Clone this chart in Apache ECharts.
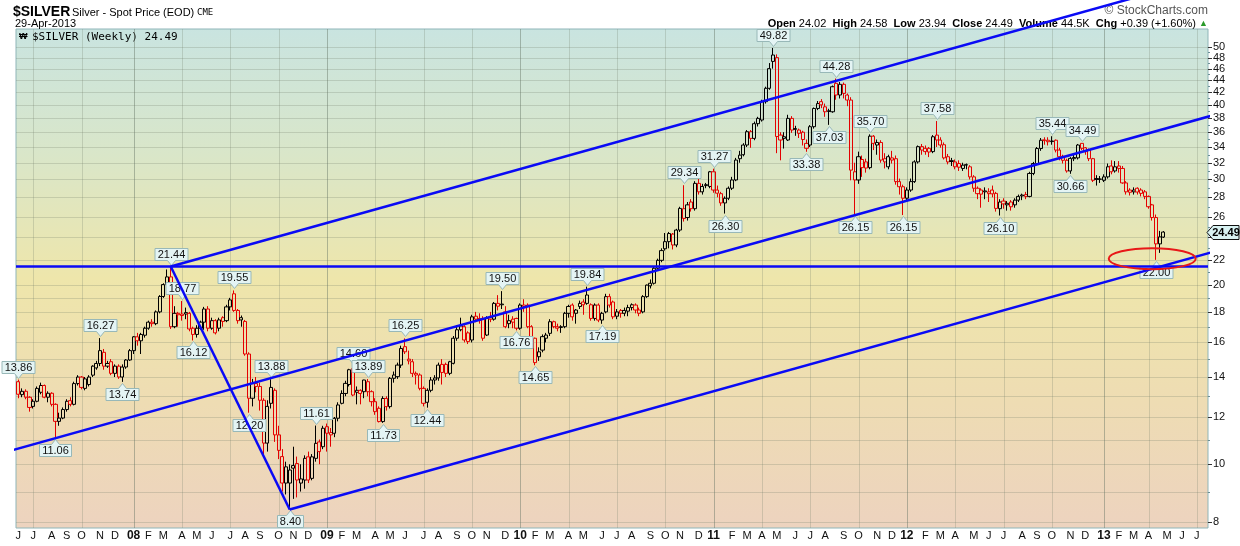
<!DOCTYPE html>
<html><head><meta charset="utf-8">
<script src="https://cdn.jsdelivr.net/npm/echarts@6/dist/echarts.min.js"></script>
<style>html,body{margin:0;padding:0;background:#fff}#c{width:1240px;height:546px}</style>
</head><body><div id="c"></div>
<script>
// ---------------- DATA (weekly bars, first bar = week of 4-Jun-2007) ----------------
const firstWeek = '2007-06-04';
const open = [
13.75,13.08,13.25,12.95,12.50,12.75,13.20,13.55,12.95,13.15,
12.60,11.80,11.95,12.35,12.78,12.60,13.65,14.00,13.40,13.60,
14.10,14.50,14.75,15.40,14.60,14.85,14.20,14.60,14.00,14.55,
14.95,15.50,16.35,16.10,16.45,16.90,17.30,17.20,18.00,19.10,
20.00,20.60,17.00,17.90,17.85,17.95,17.90,16.90,16.50,16.90,
17.30,18.20,16.90,17.40,16.90,17.60,17.40,18.35,19.30,18.10,
17.60,17.35,15.30,12.90,13.65,13.50,12.80,10.85,12.65,13.30,
11.20,10.30,9.90,9.30,9.85,10.03,9.30,9.41,10.29,9.47,
10.23,10.90,10.70,11.56,11.30,11.27,11.94,12.65,13.14,13.60,
14.47,13.30,13.30,13.23,13.75,13.23,12.73,12.41,11.79,12.89,
12.49,13.93,14.02,14.66,15.74,15.00,14.85,14.20,14.11,13.40,
12.70,13.30,13.84,13.95,14.70,14.70,14.20,14.76,16.26,16.80,
17.00,16.60,16.15,17.70,17.55,17.55,16.46,17.60,17.50,18.60,
18.55,18.00,17.20,17.50,17.55,16.90,18.48,18.48,17.00,16.26,
15.14,15.53,16.26,16.57,17.33,17.00,17.00,17.00,17.90,18.48,
18.13,18.38,18.70,18.60,18.50,17.55,18.48,17.44,18.00,19.09,
18.70,17.70,18.10,17.90,18.05,18.30,18.48,18.13,18.00,19.09,
19.90,20.10,21.30,21.96,22.96,23.60,24.30,23.30,24.68,26.80,
25.90,27.50,26.80,29.55,28.60,29.40,29.20,30.90,28.80,28.40,
27.40,27.90,29.00,29.94,32.50,33.00,34.26,36.07,35.15,37.20,
37.73,40.50,42.64,47.30,48.00,35.60,35.37,34.93,37.97,36.50,
36.30,36.00,34.48,34.26,36.77,39.45,40.50,39.70,39.10,38.95,
43.47,41.55,43.30,41.55,40.75,30.90,29.94,32.40,32.10,31.40,
35.45,34.26,34.60,32.50,31.50,32.60,32.50,29.75,29.17,27.90,
28.80,29.75,32.10,34.05,33.83,33.83,33.40,35.60,34.93,34.30,
32.75,32.25,32.10,31.90,31.30,31.75,31.50,30.30,29.00,28.80,
28.70,28.60,28.80,28.43,26.80,27.60,27.20,27.50,27.20,27.70,
28.25,28.30,28.10,30.70,31.90,33.80,34.95,34.90,34.80,34.90,
33.60,32.80,32.30,31.00,32.50,32.60,34.48,33.90,33.60,32.50,
30.10,30.05,29.90,30.30,31.60,31.00,31.60,31.30,29.60,28.80,
28.80,29.00,28.80,28.60,28.10,27.20,25.90,23.40,24.02];
const high = [
13.86,13.40,13.35,13.00,12.85,13.50,13.70,13.60,13.25,13.20,
12.65,12.20,12.45,12.85,12.95,13.75,14.10,14.05,14.00,14.10,
14.65,14.90,16.27,15.60,14.90,15.00,14.70,14.70,14.70,15.00,
15.60,16.40,16.60,16.60,17.00,17.40,17.50,18.10,19.20,20.10,
21.20,21.44,18.40,18.00,18.77,18.30,18.00,17.00,17.10,17.40,
18.35,18.40,17.60,17.50,17.60,17.70,18.50,19.00,19.55,18.20,
17.75,17.45,15.40,13.90,14.00,13.70,12.90,12.80,13.88,13.40,
11.60,10.60,10.10,10.00,10.70,10.30,10.00,10.35,10.50,10.40,
11.61,11.00,11.60,11.70,11.50,12.00,12.70,13.30,13.80,14.45,
14.60,13.50,13.35,13.85,13.89,13.30,12.90,12.50,13.00,13.00,
14.00,14.30,14.80,15.80,16.25,15.50,15.00,14.30,14.20,13.50,
13.40,14.00,14.10,14.80,15.00,14.80,14.90,16.40,17.10,17.60,
17.10,16.70,17.80,18.00,17.90,17.70,17.70,18.00,18.70,19.20,
19.50,18.40,17.80,17.70,17.60,18.60,18.90,18.60,17.10,16.30,
15.70,16.50,16.60,17.50,17.40,17.20,17.10,18.00,18.50,18.60,
18.20,18.80,18.90,19.84,18.60,18.60,18.60,18.00,19.30,19.30,
18.80,18.20,18.20,18.30,18.50,18.60,18.60,18.30,19.20,20.00,
20.40,21.40,22.10,23.00,24.40,24.50,24.40,24.80,27.00,29.34,
27.50,27.80,29.80,30.20,29.50,29.60,31.00,31.27,29.30,28.60,
28.10,29.20,30.30,32.60,33.50,34.50,36.30,36.30,37.50,38.20,
40.80,42.90,47.00,49.82,48.60,36.00,36.00,38.50,38.30,36.90,
36.50,36.20,35.00,37.00,39.60,40.60,40.90,40.20,39.40,43.10,
44.28,43.70,43.60,41.80,41.20,32.00,33.40,32.90,32.50,35.70,
35.60,35.00,34.90,33.20,33.00,33.50,32.90,30.10,29.40,29.10,
30.10,32.30,34.20,34.40,34.20,34.00,35.60,37.58,35.30,34.60,
33.10,32.60,32.40,32.30,32.00,31.90,31.70,30.50,29.20,29.00,
29.10,29.00,29.30,28.60,27.80,27.90,27.60,27.70,27.90,28.30,
28.40,28.60,30.90,32.10,34.00,35.20,35.30,35.30,35.44,35.00,
33.90,33.00,32.50,32.70,33.00,34.40,34.49,34.00,33.80,32.60,
30.50,30.40,30.60,31.90,32.30,32.20,32.20,31.60,29.80,29.00,
29.10,29.10,29.00,28.80,28.20,27.30,26.20,24.60,24.58];
const low = [
12.90,12.95,12.85,12.25,12.40,12.70,13.10,12.90,12.70,12.50,
11.06,11.60,11.90,12.25,12.50,12.55,13.55,13.35,13.30,13.50,
14.00,14.40,14.60,14.40,14.50,14.10,14.00,13.90,13.74,14.45,
14.90,15.30,15.80,15.30,16.30,16.80,17.00,17.10,17.90,19.00,
19.70,16.85,16.90,17.00,17.40,17.50,16.70,16.12,16.30,16.80,
16.80,16.70,16.80,16.50,16.70,17.00,17.30,18.10,18.00,17.20,
17.00,15.20,12.20,12.50,13.20,12.30,10.40,10.50,12.40,10.90,
10.20,9.00,8.90,8.40,8.75,8.80,9.00,9.10,9.30,9.40,
10.10,10.00,10.60,10.50,10.70,11.10,11.80,12.60,13.00,13.50,
13.00,12.60,12.60,12.90,13.00,12.50,12.10,11.75,11.73,12.30,
12.40,13.70,13.90,14.50,15.30,14.70,14.00,13.60,13.30,12.50,
12.44,13.20,13.60,13.80,13.60,14.00,14.10,14.70,16.10,16.70,
16.00,15.90,16.00,17.30,17.20,16.10,16.40,17.30,17.40,18.10,
18.20,16.90,16.90,16.90,16.76,16.80,18.00,16.90,15.90,14.65,
14.90,15.40,16.00,16.40,16.90,16.70,16.60,16.90,17.60,17.40,
17.20,18.20,17.80,18.50,17.40,17.40,17.30,17.19,17.90,18.30,
17.50,17.50,17.60,17.70,17.70,18.10,17.90,17.70,17.90,19.00,
19.70,20.00,21.20,21.80,22.80,23.00,22.90,23.10,24.50,25.50,
25.60,26.50,26.60,28.30,28.30,29.00,29.00,28.50,28.00,27.10,
26.30,27.70,28.80,29.80,32.00,32.80,34.00,33.90,34.90,36.80,
37.50,40.20,42.40,46.00,33.20,32.30,33.80,34.80,35.90,35.50,
35.20,34.20,33.38,34.00,36.50,39.20,39.50,38.20,37.03,38.80,
40.80,41.00,41.00,39.80,29.90,26.15,29.50,30.30,30.80,31.20,
33.60,33.00,32.00,31.30,31.20,31.90,29.40,28.30,26.15,27.70,
28.60,29.60,31.90,33.00,33.00,32.70,33.20,34.00,33.90,32.40,
31.80,31.60,31.20,31.00,31.00,31.20,30.00,28.60,27.80,26.90,
27.80,27.50,28.00,26.50,26.10,26.80,26.60,26.60,26.90,27.50,
27.70,27.80,28.00,30.50,31.70,33.50,34.30,34.20,34.30,33.30,
32.30,31.90,30.80,30.66,32.20,32.40,33.60,33.00,32.20,29.70,
29.30,29.60,29.70,30.10,30.60,30.80,30.80,29.50,28.30,28.20,
28.30,28.30,28.10,27.80,26.80,25.60,22.00,22.60,23.94];
const close = [
13.10,13.25,12.95,12.45,12.75,13.40,13.55,12.95,13.15,12.60,
11.80,11.95,12.35,12.75,12.60,13.65,14.00,13.45,13.90,14.00,
14.60,14.75,15.50,14.60,14.75,14.20,14.60,14.00,14.55,14.95,
15.50,16.35,16.10,16.50,16.90,17.30,17.20,18.00,19.10,20.00,
20.60,17.00,17.90,17.80,17.75,17.85,16.85,16.50,16.90,17.30,
18.20,16.90,17.40,16.60,17.45,17.35,18.35,18.85,18.10,17.40,
17.45,15.30,12.90,13.65,13.50,12.80,10.85,12.50,13.45,11.20,
10.55,9.30,9.30,9.78,9.95,9.41,9.45,10.23,9.41,10.29,
10.84,10.50,11.49,11.27,11.20,11.94,12.57,13.14,13.66,14.40,
13.06,13.20,13.14,13.84,13.23,12.73,12.25,11.79,12.89,12.49,
13.93,14.11,14.66,15.63,15.43,14.90,14.20,14.11,13.40,12.65,
13.30,13.84,13.95,14.66,14.25,14.20,14.85,16.26,16.80,17.05,
16.15,16.05,17.66,17.50,17.44,16.26,17.55,17.50,18.60,18.40,
18.50,17.00,17.40,17.30,16.90,18.48,18.38,17.00,16.15,14.80,
15.43,16.36,16.46,17.33,17.00,16.90,16.95,17.90,18.38,17.66,
17.90,18.60,18.50,19.21,17.55,18.48,17.44,17.90,19.09,18.48,
17.66,18.00,17.90,18.10,18.30,18.50,18.13,17.90,19.09,19.96,
20.10,21.30,21.96,22.80,23.60,24.35,23.30,24.68,26.83,25.80,
27.20,26.80,29.55,28.60,29.20,29.30,30.90,28.80,28.45,27.40,
27.90,29.00,29.94,32.33,32.95,34.26,36.07,35.15,37.20,37.97,
40.50,42.64,46.00,48.48,35.40,34.93,35.15,37.97,36.30,36.40,
35.84,35.00,33.83,36.77,39.45,40.20,40.00,38.95,39.00,42.90,
41.55,43.30,41.80,40.75,31.10,29.94,32.75,31.40,31.35,35.45,
34.48,34.60,32.33,32.10,32.75,32.33,29.75,29.17,27.90,28.80,
29.75,32.10,34.05,33.60,33.40,33.35,35.37,34.93,34.26,32.60,
32.10,32.15,31.50,31.45,31.70,31.72,30.30,29.00,28.40,28.35,
28.60,28.40,28.38,26.83,27.50,27.30,27.36,27.00,27.70,28.10,
28.15,28.10,30.70,31.90,33.80,34.90,34.85,34.70,34.72,33.60,
32.75,32.30,31.00,32.54,32.65,34.26,33.83,33.40,32.50,29.90,
30.00,30.02,30.30,31.50,30.90,31.50,31.30,29.60,28.60,28.55,
28.60,28.58,28.43,28.10,27.00,25.90,23.40,24.04,24.49];

// price call-outs: week index, price, side
const annWeek  = [0,10,22,28,41,44,47,58,62,68,73,80,90,94,98,104,110,130,134,139,153,157,179,187,190,203,212,218,220,225,229,238,247,264,278,283,286,306];
const annPrice = [13.86,11.06,16.27,13.74,21.44,18.77,16.12,19.55,12.20,13.88,8.40,11.61,14.60,13.89,11.73,16.25,12.44,19.50,16.76,14.65,19.84,17.19,29.34,31.27,26.30,49.82,33.38,37.03,44.28,26.15,35.70,26.15,37.58,26.10,35.44,30.66,34.49,22.00];
const annSide  = ['u','d','u','d','u','u','d','u','d','u','d','u','u','u','d','u','d','u','d','d','u','d','u','u','d','u','d','d','u','d','u','d','u','d','u','d','u','d'];

// trend lines: [week index, price] anchor pairs
const lineFlat  = [[-0.62,21.44],[320,21.44]];
const lineTop   = [[41,21.44],[310,62.9]];
const lineMid   = [[-4.9,10.42],[328.6,39.55]];
const lineLow   = [[73,8.40],[328.6,23.35]];
const lineDrop  = [[41,21.44],[73,8.40]];
const ringCentre = [305,22.1];

// axis ticks
const yTicks = [8,10,12,14,16,18,20,22,24,26,28,30,32,34,36,38,40,42,44,46,48,50];
const yGrid  = [8,9,10,11,12,13,14,15,16,17,18,19,20,22,24,26,28,30,32,34,36,38,40,42,44,46,48,50];
const yMinor = [9,11,13,15,17,19,21,23,25,27,29,31,33,35,37,39,41,43,45,47,49];
const monthLabels = ['J','J','A','S','O','N','D',
 '08','F','M','A','M','J','J','A','S','O','N','D',
 '09','F','M','A','M','J','J','A','S','O','N','D',
 '10','F','M','A','M','J','J','A','S','O','N','D',
 '11','F','M','A','M','J','J','A','S','O','N','D',
 '12','F','M','A','M','J','J','A','S','O','N','D',
 '13','F','M','A','M','J','J'];

// ---------------- CHART ----------------
const WEEK = 7*864e5;
const START = Date.parse(firstWeek+'T00:00:00Z');
const wk = i => START + i*WEEK;
const X_MIN = wk(-0.62), X_MAX = wk(320.0);
const Y_MIN = 7.82, Y_MAX = 53.6;
const RED = '#e40000', BLUE = '#0a0af5';
const FONT = '"Liberation Sans", Arial, sans-serif';

const mctx = document.createElement('canvas').getContext('2d');
function textW(t, f){ mctx.font = f; return mctx.measureText(t).width; }

const candleData = close.map((c,i)=>{
  const red = i>0 ? c < close[i-1] : c < open[i];
  const col = red ? RED : '#000';
  return {value:[wk(i), open[i], c, low[i], high[i]],
    itemStyle:{color:'rgba(0,0,0,0)', color0:col, borderColor:col, borderColor0:col}};
});

const months = monthLabels.map((lab,k)=>{
  const y = 2007 + Math.floor((5+k)/12), m = (5+k)%12;
  const idx = Math.ceil((Date.UTC(y,m,1) - START)/WEEK);
  return {t: wk(idx), m, lab};
});

const chart = echarts.init(document.getElementById('c'), null, {renderer:'canvas'});

const series = [];
series.push({type:'custom', z:1, silent:true, animation:false,
  data: yGrid.map(v=>[X_MIN,v]), encode:{x:0,y:1},
  renderItem:(p,api)=>{
    const v = api.value(1);
    const a = api.coord([X_MIN,v]), b = api.coord([X_MAX,v]);
    const y = Math.round(a[1])+0.5;
    return {type:'line', shape:{x1:a[0],y1:y,x2:b[0],y2:y}, style:{stroke:'rgba(110,125,105,0.25)', lineWidth:1}};
  }});
series.push({type:'custom', z:1, silent:true, animation:false,
  data: months.filter(o=>o.m%3===0).map(o=>[o.t, Y_MIN, o.m]), encode:{x:0,y:1},
  renderItem:(p,api)=>{
    const t = api.value(0), m = api.value(2);
    const a = api.coord([t,Y_MIN]), b = api.coord([t,Y_MAX]);
    const x = Math.round(a[0])+0.5;
    return {type:'line', shape:{x1:x,y1:a[1],x2:x,y2:b[1]},
      style:{stroke: m===0 ? 'rgba(100,115,100,0.45)' : 'rgba(110,125,105,0.25)', lineWidth:1}};
  }});
series.push({type:'custom', z:1, silent:true, animation:false,
  data: yTicks.map(v=>[X_MAX,v]), encode:{x:0,y:1},
  renderItem:(p,api)=>{
    const v = api.value(1);
    const a = api.coord([X_MAX,v]);
    const y = Math.round(a[1])+0.5;
    return {type:'group', children:[
      {type:'line', shape:{x1:a[0],y1:y,x2:a[0]+4,y2:y}, style:{stroke:'#333', lineWidth:1}},
      {type:'text', x:a[0]+5, y:a[1], style:{text:String(v), font:'11px '+FONT, fill:'#111', verticalAlign:'middle', align:'left'}}
    ]};
  }});
series.push({type:'custom', z:1, silent:true, animation:false,
  data: yMinor.map(v=>[X_MAX,v]), encode:{x:0,y:1},
  renderItem:(p,api)=>{
    const a = api.coord([X_MAX, api.value(1)]);
    const y = Math.round(a[1])+0.5;
    return {type:'line', shape:{x1:a[0],y1:y,x2:a[0]+2,y2:y}, style:{stroke:'#6a8f95', lineWidth:1}};
  }});
series.push({type:'custom', z:1, silent:true, animation:false,
  data: months.map((o,k)=>[o.t, Y_MIN, k]), encode:{x:0,y:1},
  renderItem:(p,api)=>{
    const k = api.value(2), o = months[k];
    const a = api.coord([o.t, Y_MIN]);
    const yr = o.m===0;
    return {type:'text', x:a[0], y:a[1]+8, style:{text:o.lab, font:(yr?'bold 12px ':'11px ')+FONT, fill:'#111', align:'center', verticalAlign:'middle'}};
  }});
series.push({type:'candlestick', z:2, silent:true, animation:false, barWidth:3.6,
  encode:{x:0, y:[1,2,3,4]}, data:candleData,
  itemStyle:{borderWidth:1}});
series.push({type:'custom', z:3, silent:true, animation:false,
  data: annWeek.map((w,k)=>[wk(w), annPrice[k], k]), encode:{x:0,y:1},
  renderItem:(p,api)=>{
    const k = api.value(2);
    const pt = api.coord([wk(annWeek[k]), annPrice[k]]);
    const txt = annPrice[k].toFixed(2);
    const f = '11px '+FONT;
    const w = Math.round(textW(txt,f)) + 5, h = 12;
    const px = Math.round(pt[0]) + 0.5;
    let pts, ty;
    if (annSide[k]==='u'){
      const tip = Math.round(pt[1]) - 1.5, yb = tip - 5, yt = yb - h;
      pts = [[px-w/2,yt],[px+w/2,yt],[px+w/2,yb],[px+4,yb],[px,tip],[px-4,yb],[px-w/2,yb]];
      ty = (yt+yb)/2;
    } else {
      const tip = Math.round(pt[1]) + 1.5, yt = tip + 5, yb = yt + h;
      pts = [[px-w/2,yt],[px-4,yt],[px,tip],[px+4,yt],[px+w/2,yt],[px+w/2,yb],[px-w/2,yb]];
      ty = (yt+yb)/2;
    }
    return {type:'group', children:[
      {type:'polygon', shape:{points:pts}, style:{fill:'#e4f4f4', stroke:'#98b8b8', lineWidth:1}},
      {type:'text', x:px, y:ty+0.5, style:{text:txt, font:f, fill:'#111', align:'center', verticalAlign:'middle'}}
    ]};
  }});
series.push({type:'custom', z:3, silent:true, animation:false,
  data:[[X_MAX, close[close.length-1]]], encode:{x:0,y:1},
  renderItem:(p,api)=>{
    const a = api.coord([X_MAX, api.value(1)]);
    const x0 = a[0]-1, y = Math.round(a[1])+0.5;
    const pts = [[x0,y],[x0+6,y-7],[x0+32,y-7],[x0+32,y+7],[x0+6,y+7]];
    return {type:'group', children:[
      {type:'polygon', shape:{points:pts}, style:{fill:'#d8f2f2', stroke:'#111', lineWidth:1}},
      {type:'text', x:x0+19, y:y, style:{text:api.value(1).toFixed(2), font:'bold 11px '+FONT, fill:'#000', align:'center', verticalAlign:'middle'}}
    ]};
  }});
[lineFlat, lineTop, lineMid, lineLow, lineDrop].forEach(L=>{
  series.push({type:'line', z:4, silent:true, animation:false, clip:false, symbol:'none',
    data: L.map(q=>[wk(q[0]), q[1]]), lineStyle:{color:BLUE, width:2.5}});
});
series.push({type:'custom', z:5, silent:true, animation:false,
  data:[[wk(ringCentre[0]), ringCentre[1]]], encode:{x:0,y:1},
  renderItem:(p,api)=>{
    const a = api.coord([api.value(0), api.value(1)]);
    return {type:'ellipse', shape:{cx:a[0], cy:a[1], rx:43.5, ry:10.5}, style:{fill:'none', stroke:'#e81818', lineWidth:2}};
  }});

const last = close.length-1;
chart.setOption({
  animation:false,
  backgroundColor:'#fff',
  grid:{left:16, right:32, top:29, bottom:18, show:true, borderColor:'#8fb5b8', borderWidth:1,
    backgroundColor:{type:'linear', x:0, y:0, x2:0, y2:1, colorStops:[
      {offset:0, color:'#c9e4e0'},{offset:0.25, color:'#d9e6c9'},{offset:0.5, color:'#eee6ab'},
      {offset:0.75, color:'#eedcb3'},{offset:1, color:'#edd3bf'}]}},
  xAxis:{type:'time', min:X_MIN, max:X_MAX, show:false, splitLine:{show:false}},
  yAxis:{type:'log', logBase:10, min:Y_MIN, max:Y_MAX, show:false, splitLine:{show:false}},
  series,
  graphic:[
    {type:'text', x:13, y:12, style:{text:'$SILVER', font:'bold 14px '+FONT, fill:'#000', verticalAlign:'middle'}},
    {type:'text', x:72, y:13, style:{text:'Silver - Spot Price (EOD)', font:'11px '+FONT, fill:'#000', verticalAlign:'middle'}},
    {type:'text', x:197, y:13, style:{text:'CME', font:'9px "DejaVu Sans Mono", monospace', fill:'#000', verticalAlign:'middle'}},
    {type:'text', x:15, y:24, style:{text:'29-Apr-2013', font:'11px '+FONT, fill:'#000', verticalAlign:'middle'}},
    {type:'text', x:1208, y:11, style:{text:'\u00a9 StockCharts.com', font:'12px '+FONT, fill:'#555', align:'right', verticalAlign:'middle'}},
    {type:'text', x:1208, y:24, style:{
      text:'{b|Open} '+open[last].toFixed(2)+'  {b|High} '+high[last].toFixed(2)+'  {b|Low} '+low[last].toFixed(2)+'  {b|Close} '+close[last].toFixed(2)+'  {b|Volume} 44.5K  {b|Chg} +0.39 (+1.60%) {g|\u25b2}',
      font:'11px '+FONT, fill:'#000', align:'right', verticalAlign:'middle',
      rich:{b:{font:'bold 11px '+FONT, fill:'#000'}, g:{font:'9px '+FONT, fill:'#2a9a2a'}}}},
    {type:'text', x:19, y:37, style:{text:'\u20a9', font:'bold 9px '+FONT, fill:'#000', verticalAlign:'middle'}},
    {type:'text', x:32, y:37, style:{text:'$SILVER (Weekly) '+close[last].toFixed(2), font:'11px "DejaVu Sans Mono", monospace', fill:'#000', verticalAlign:'middle'}}
  ]
});
</script></body></html>
